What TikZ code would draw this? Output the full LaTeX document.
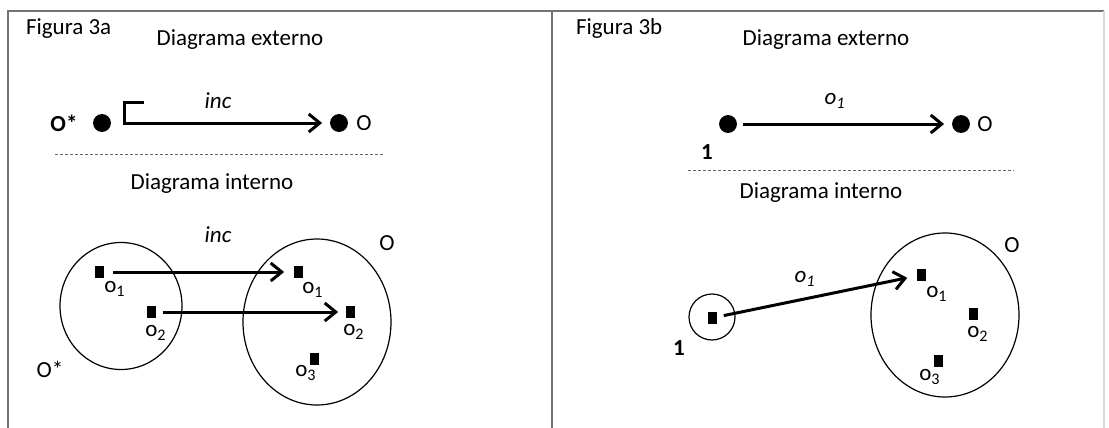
\documentclass[tikz,border=0pt]{standalone}
\usepackage{fontspec}
\setmainfont{Carlito}
\usetikzlibrary{arrows.meta,shapes.geometric}

\begin{document}
\begin{tikzpicture}[x=0.5pt, y=-0.5pt,
  every node/.style={font=\fontsize{11.5}{13}\selectfont},
  dot/.style={draw, circle, fill=black, minimum size=8.5pt, inner sep=0pt},
  elem/.style={rectangle, fill=black, minimum width=4.5pt, minimum height=6pt, inner sep=0pt},
  set/.style={draw, ellipse, line width=0.6pt, inner sep=0pt},
  bold/.style={font=\fontsize{11.5}{13}\selectfont\bfseries},
  arr/.style={line width=1.5pt, -{Straight Barb[length=5.5pt, width=9pt]}},
  boxline/.style={draw=black!55, line width=0.7pt},
  divline/.style={draw=black!60, line width=0.4pt, dash pattern=on 1.5pt off 1pt}]
\useasboundingbox (0,0) rectangle (1109,428);

% frame
\draw[boxline] (8,428) -- (8,11) -- (1104,11);
\draw[boxline] (552,11) -- (552,428);
\draw[boxline, draw=black!15] (1104,11) -- (1104,428);

% Figura 3a, externo
\node[anchor=base west] (figa) at (19,34) {Figura 3a};
\node[anchor=base] (extA) at (240,46) {Diagrama externo};
\node[dot] (Ostar) at (102,123) {};
\node[bold] (OstarL) at (64,123) {O*};
\node[dot] (Oa) at (339,123) {};
\node (OaL) at (364,123) {O};
\node (incA) at (218,101) {\textit{inc}};
\coordinate (hk) at (144,102);
\coordinate (hkc) at (124,102);
\draw[arr, shorten >=4pt] (hk) -- (hkc) |- (Oa.west);
\draw[divline] (55,154) -- (383,154);

% Figura 3a, interno
\node[anchor=base] (intA) at (212,189) {Diagrama interno};
\node (incB) at (218,235) {\textit{inc}};
\node[set, minimum width=61pt, minimum height=63.5pt] (Sstar) at (121,306) {};
\node[set, minimum width=74pt, minimum height=83pt] (SO) at (317,322) {};
\node (SOL) at (387,243) {O};
\node (SstarL) at (50,369) {O*};
\node[elem] (a1) at (99,272) {};
\node[elem] (a2) at (151,312) {};
\node[elem] (b1) at (298,272) {};
\node[elem] (b2) at (350,312) {};
\node[elem] (b3) at (314,359) {};
\node (a1L) at (115,289) {o\textsubscript{1}};
\node (a2L) at (156,333) {o\textsubscript{2}};
\node (b1L) at (313,290) {o\textsubscript{1}};
\node (b2L) at (354,332) {o\textsubscript{2}};
\node (b3L) at (306,373) {o\textsubscript{3}};
\draw[arr, shorten <=4.5pt, shorten >=4.5pt] (a1) -- (b1);
\draw[arr, shorten <=3.5pt, shorten >=3.5pt] (a2) -- (b2);

% Figura 3b, externo
\node[anchor=base west] (figb) at (569,34) {Figura 3b};
\node[anchor=base] (extB) at (826,46) {Diagrama externo};
\node[dot] (one) at (728,124) {};
\node[dot] (Ob) at (961,124) {};
\node (ObL) at (985,124) {O};
\node[bold] (oneL) at (707,152) {1};
\node (o1top) at (835,101) {\textit{o\textsubscript{1}}};
\draw[arr, shorten <=3pt, shorten >=4pt] (one) -- (Ob);
\draw[divline] (688,170) -- (1014,170);

% Figura 3b, interno
\node[anchor=base] (intB) at (821,198) {Diagrama interno};
\node[set, minimum size=23pt] (Sone) at (712,317) {};
\node[elem] (s) at (712,318) {};
\node[bold] (SoneL) at (679,348) {1};
\node (sL) at (805,279) {\textit{o\textsubscript{1}}};
\node[set, minimum width=74pt, minimum height=82pt] (SOb) at (945,315) {};
\node (SObL) at (1012,245) {O};
\node[elem] (c1) at (921,275) {};
\node[elem] (c2) at (973,314) {};
\node[elem] (c3) at (938,361) {};
\node (c1L) at (937,294) {o\textsubscript{1}};
\node (c2L) at (978,334) {o\textsubscript{2}};
\node (c3L) at (930,377) {o\textsubscript{3}};
\draw[arr, shorten <=3.5pt, shorten >=4.5pt] (s) -- (c1);

\end{tikzpicture}
\end{document}
